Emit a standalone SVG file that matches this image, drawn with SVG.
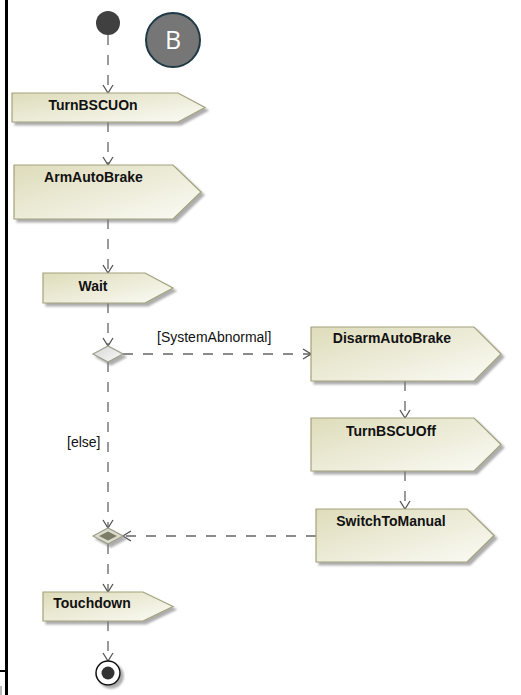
<svg xmlns="http://www.w3.org/2000/svg" width="521" height="695" viewBox="0 0 521 695">
  <style>
    .action { fill: url(#actionFill); stroke: #a3a27c; stroke-width: 1.2; filter: url(#shadow); }
    .label { font-family: "Liberation Sans", Arial, sans-serif; font-size: 14px; font-weight: bold; fill: #111; text-anchor: middle; }
    .guard { font-family: "Liberation Sans", Arial, sans-serif; font-size: 14px; fill: #111; }
    .flow { fill: none; stroke: #666; stroke-width: 1.3; stroke-dasharray: 10 10; marker-end: url(#open); }
  </style>
  <defs>
    <linearGradient id="actionFill" x1="0" y1="0" x2="1" y2="1">
      <stop offset="0" stop-color="#dedcba"/>
      <stop offset="1" stop-color="#fbfbf6"/>
    </linearGradient>
    <linearGradient id="decisionFill" x1="0" y1="0" x2="1" y2="1">
      <stop offset="0" stop-color="#d6d6d6"/>
      <stop offset="1" stop-color="#fafafa"/>
    </linearGradient>
    <filter id="shadow" x="-10%" y="-10%" width="130%" height="140%">
      <feDropShadow dx="3" dy="3" stdDeviation="1.3" flood-color="#777" flood-opacity="0.6"/>
    </filter>
    <marker id="open" viewBox="-9 -6 10 12" refX="0" refY="0" markerWidth="10" markerHeight="12" markerUnits="userSpaceOnUse" orient="auto">
      <path d="M-8,-5 L0,0 L-8,5" fill="none" stroke="#555" stroke-width="1.3"/>
    </marker>
  </defs>

  <!-- swimlane frame -->
  <g id="frame">
    <line x1="6.5" y1="0" x2="6.5" y2="695" stroke="#000" stroke-width="3"/>
    <line x1="0" y1="671" x2="6" y2="671" stroke="#000" stroke-width="2"/>
    <line x1="1" y1="686" x2="1" y2="695" stroke="#bbb" stroke-width="2"/>
  </g>

  <!-- control flows -->
  <g id="connectors">
    <path class="flow" d="M108,35 V93"/>
    <path class="flow" d="M108,122 V165"/>
    <path class="flow" d="M108,219 V273"/>
    <path class="flow" d="M108,303 V346"/>
    <path class="flow" d="M123,354 H311"/>
    <path class="flow" d="M108,362 V528"/>
    <path class="flow" d="M405,381 V418"/>
    <path class="flow" d="M405,471 V509"/>
    <path class="flow" d="M316,536 H123"/>
    <path class="flow" d="M108,544 V592"/>
    <path class="flow" d="M108,621 V661"/>
    <text class="guard" x="157" y="342">[SystemAbnormal]</text>
    <text class="guard" x="67" y="447">[else]</text>
  </g>

  <g id="initial">
    <circle cx="108" cy="23" r="12" fill="#404040"/>
  </g>

  <g id="badgeB">
    <circle cx="173" cy="40" r="27" fill="#767676" stroke="#1f3a46" stroke-width="2"/>
    <text x="173" y="49" font-family="'Open Sans', 'Liberation Sans', sans-serif" font-size="25" fill="#fff" text-anchor="middle">B</text>
  </g>

  <g id="TurnBSCUOn">
    <path class="action" d="M12,93 H178 L205,107.5 L178,122 H12 Z"/>
    <text class="label" x="93" y="110">TurnBSCUOn</text>
  </g>

  <g id="ArmAutoBrake">
    <path class="action" d="M14,165 H173 L201,192 L173,219 H14 Z"/>
    <text class="label" x="93.5" y="182">ArmAutoBrake</text>
  </g>

  <g id="Wait">
    <path class="action" d="M43,273 H145 L173,288 L145,303 H43 Z"/>
    <text class="label" x="93" y="291">Wait</text>
  </g>

  <g id="decision">
    <path d="M93,354 L108,346 L123,354 L108,362 Z" fill="url(#decisionFill)" stroke="#9e9e8c" stroke-width="1.2" filter="url(#shadow)"/>
  </g>

  <g id="DisarmAutoBrake">
    <path class="action" d="M311,327 H474 L501,354 L474,381 H311 Z"/>
    <text class="label" x="392" y="343">DisarmAutoBrake</text>
  </g>

  <g id="TurnBSCUOff">
    <path class="action" d="M311,418 H474 L501,444.5 L474,471 H311 Z"/>
    <text class="label" x="391" y="436">TurnBSCUOff</text>
  </g>

  <g id="SwitchToManual">
    <path class="action" d="M316,509 H467 L494,535.5 L467,562 H316 Z"/>
    <text class="label" x="391" y="526">SwitchToManual</text>
  </g>

  <g id="merge">
    <path d="M93,536 L108,528 L123,536 L108,544 Z" fill="#dcdccc" stroke="#9e9e8c" stroke-width="1.2" filter="url(#shadow)"/>
    <path d="M99,536 L108,531.5 L117,536 L108,540.5 Z" fill="#7b7d69"/>
  </g>

  <g id="Touchdown">
    <path class="action" d="M43,592 H143 L173,606.5 L143,621 H43 Z"/>
    <text class="label" x="92" y="608">Touchdown</text>
  </g>

  <g id="final">
    <circle cx="108" cy="673" r="12" fill="#fff" stroke="#111" stroke-width="1.5" filter="url(#shadow)"/>
    <circle cx="108" cy="673" r="6.5" fill="#333"/>
  </g>
</svg>
